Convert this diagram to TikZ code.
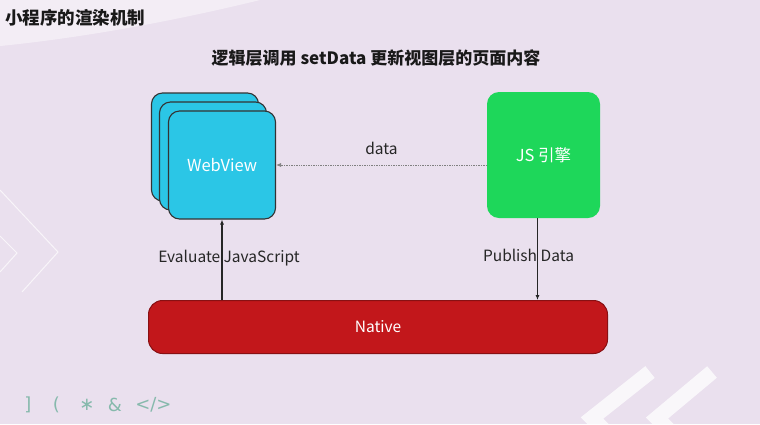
\documentclass[tikz,border=0pt]{standalone}
\usepackage{fontspec}
\setmainfont{Noto Sans CJK SC}
\setsansfont{DejaVu Sans}
\usepackage{tikz}
\usetikzlibrary{arrows.meta,positioning,calc}
\definecolor{slidebg}{HTML}{EAE0EE}
\definecolor{wvcyan}{HTML}{2BC6E6}
\definecolor{jsgreen}{HTML}{1ED75A}
\definecolor{natred}{HTML}{C2171B}
\definecolor{decoteal}{HTML}{86B9AC}
\tikzset{
  rm/webview/.style={draw=black!80, fill=wvcyan, line width=1.1pt, rounded corners=11pt, minimum width=107pt, minimum height=108pt, text=white, font=\fontsize{16.5}{19}\selectfont},
  rm/engine/.style={fill=jsgreen, rounded corners=12pt, minimum width=113pt, minimum height=126pt, text=white, font=\fontsize{16.5}{19}\selectfont},
  rm/native/.style={draw=natred!70!black, fill=natred, line width=1pt, rounded corners=14pt, minimum width=459pt, minimum height=53pt, text=white, font=\fontsize{15.5}{18}\selectfont},
  rm/label/.style={text=black!85, font=\fontsize{15.5}{18}\selectfont, inner sep=1pt},
  rm/title/.style={text=black!90, font=\bfseries\fontsize{17.5}{21}\selectfont, inner sep=0pt},
  rm/arr/.style={-{Latex[length=5pt,width=4pt]}, line width=1.1pt, black!85},
  rm/dotarr/.style={-{Latex[length=5pt,width=4pt]}, densely dotted, line width=0.7pt, black!50},
  rm/deco/.style={text=decoteal, font=\sffamily\fontsize{18}{20}\selectfont, inner sep=0pt},
  rm/swoosh/.style={white, line width=1pt, opacity=0.7},
  rm/chevron/.style={white, opacity=0.75, line width=15pt}
}

\begin{document}
\begin{tikzpicture}[x=1pt,y=-1pt]
  % slide background
  \fill[slidebg] (0,0) rectangle (760,424);
  \useasboundingbox (0,0) rectangle (760,424);
  \fill[white, opacity=0.45] (0,0) -- (260,0) .. controls (170,22) and (80,38) .. (0,46) -- cycle;
  \draw[rm/swoosh] (0,190) -- (58,252) -- (22,292);
  \draw[rm/swoosh] (0,236) -- (17,253) -- (0,272);
  \draw[rm/chevron] (650,372) -- (592,418) -- (606,432);
  \draw[rm/chevron] (712,372) -- (657,418) -- (671,432);

  % titles
  \node[rm/title, anchor=west] (slidetitle) at (5,18) {小程序的渲染机制};
  \node[rm/title, font=\bfseries\fontsize{17}{20}\selectfont] (subtitle) at (376,58) {逻辑层调用 setData 更新视图层的页面内容};

  % webview stack
  \node[rm/webview] (webview3) at (205,147) {};
  \node[rm/webview] (webview2) at (213,156) {};
  \node[rm/webview] (webview) at (222,165) {WebView};

  \node[rm/engine] (engine) at (543.5,155) {JS 引擎};
  \node[rm/native] (native) at (378,327) {Native};

  % connectors
  \draw[rm/dotarr] (engine.west |- webview.east) -- (webview.east)
    node[rm/label, midway, above=9pt] (datalbl) {data};
  \draw[rm/arr] (webview.south |- native.north) -- (webview.south);
  \draw[rm/arr] ([xshift=-6pt]engine.south) -- ([xshift=-6pt]engine.south |- native.north);

  \node[rm/label, xshift=7pt] (evallbl) at ($(webview.south)!0.48!(webview.south |- native.north)$) {Evaluate JavaScript};
  \node[rm/label, xshift=-15pt] (publbl) at ($(engine.south)!0.45!(engine.south |- native.north)$) {Publish Data};

  % footer symbols
  \node[rm/deco] (d1) at (28,405) {]};
  \node[rm/deco, right=21pt of d1] (d2) {(};
  \node[rm/deco, right=19pt of d2] (d3) {∗};
  \node[rm/deco, right=13pt of d3] (d4) {\&};
  \node[rm/deco, right=13pt of d4] (d5) {</>};
\end{tikzpicture}
\end{document}
